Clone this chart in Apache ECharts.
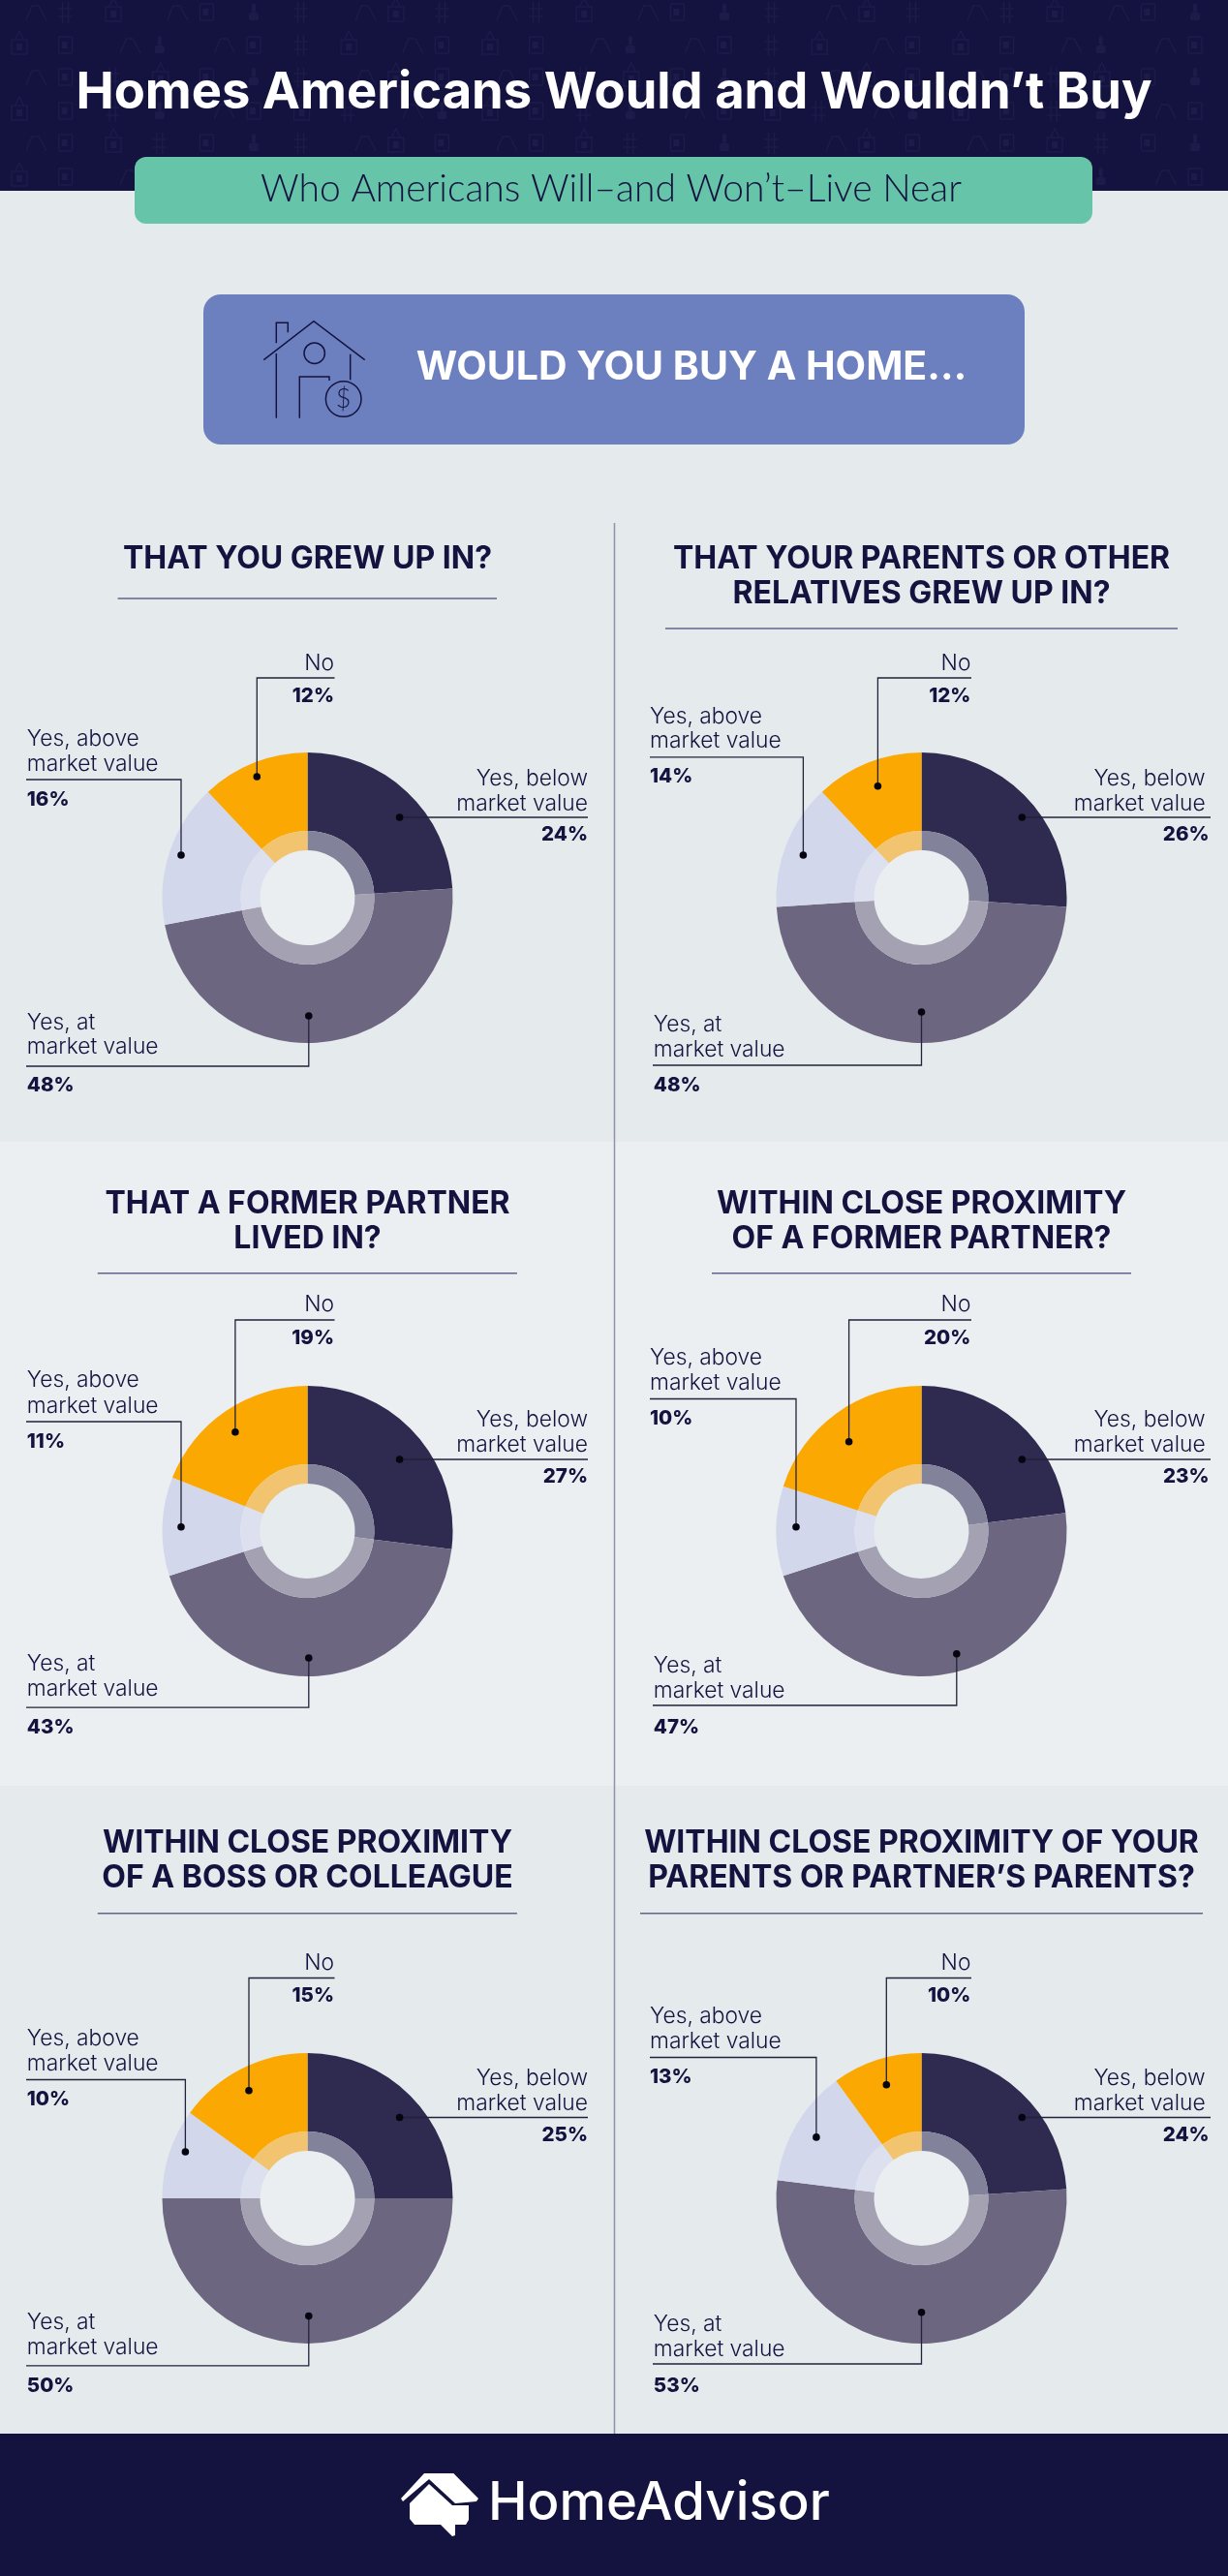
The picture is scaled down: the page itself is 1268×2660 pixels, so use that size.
<!DOCTYPE html>
<html>
<head>
<meta charset="utf-8">
<title>Homes Americans Would and Wouldn't Buy</title>
<script src="https://cdn.jsdelivr.net/npm/echarts@6/dist/echarts.min.js"></script>
<style>
    html, body { margin: 0; padding: 0; background: #e5eaed; }
    #main { width: 1268px; height: 2660px; }
</style>
</head>
<body>
<div id="main"></div>
<script>
// values, one entry per question
const questions = [
    ['THAT YOU GREW UP IN?'],
    ['THAT YOUR PARENTS OR OTHER', 'RELATIVES GREW UP IN?'],
    ['THAT A FORMER PARTNER', 'LIVED IN?'],
    ['WITHIN CLOSE PROXIMITY', 'OF A FORMER PARTNER?'],
    ['WITHIN CLOSE PROXIMITY', 'OF A BOSS OR COLLEAGUE'],
    ['WITHIN CLOSE PROXIMITY OF YOUR', 'PARENTS OR PARTNER\u2019S PARENTS?']
];
const answerLabels = [['Yes, below', 'market value'], ['Yes, at', 'market value'], ['Yes, above', 'market value'], ['No']];
const belowMarket = [24, 26, 27, 23, 25, 24];
const atMarket = [48, 48, 43, 47, 50, 53];
const aboveMarket = [16, 14, 11, 10, 10, 13];
const noBuy = [12, 12, 19, 20, 15, 10];

const NAVY = '#14123f';
const sliceColors = ['#2e2a50', '#6d6680', '#d2d7ec', '#fba802'];
const ringColors = ['#82839a', '#a3a1b2', '#dde1ef', '#f2c46f'];
const HEAD_FONT = 'Inter, "Noto Sans", sans-serif';
const BODY_FONT = 'Lato, "Noto Sans", sans-serif';

// where each panel sits on the page. callouts are in answer order: below, at, above, no
const panels = [
    {cx: 317.5, cy: 927, titleY: [577.5], ruleY: 618, ruleX: [121.6, 513], hole: '#eaeef0', callouts: [
        {dot: [412.6, 844], ruleY: 844, end: 607, textX: 607, pctX: 607, align: 'right', textY: [803, 829], pctY: 860},
        {dot: [318.8, 1049], ruleY: 1101, end: 27, textX: 27.8, pctX: 27.8, align: 'left', textY: [1055, 1080.6], pctY: 1119},
        {dot: [187, 883], ruleY: 805, end: 27, textX: 27.8, pctX: 27.8, align: 'left', textY: [762.4, 788], pctY: 824},
        {dot: [265.3, 802], ruleY: 700, end: 345.5, textX: 345, pctX: 345, align: 'right', textY: [684], pctY: 717}
    ]},
    {cx: 951.5, cy: 927, titleY: [577.5, 613], ruleY: 649, ruleX: [687, 1216], hole: '#eaeef0', callouts: [
        {dot: [1055.3, 844], ruleY: 844, end: 1250, textX: 1244.6, pctX: 1248.6, align: 'right', textY: [803, 829], pctY: 860},
        {dot: [951.5, 1045], ruleY: 1100, end: 674, textX: 674.8, pctX: 674.8, align: 'left', textY: [1057, 1082.7], pctY: 1119},
        {dot: [829.4, 883], ruleY: 781.8, end: 671, textX: 671, pctX: 671, align: 'left', textY: [739, 764.5], pctY: 800.7},
        {dot: [906.4, 811.7], ruleY: 700, end: 1003, textX: 1002.4, pctX: 1002.4, align: 'right', textY: [684], pctY: 717}
    ]},
    {cx: 317.5, cy: 1581, titleY: [1243, 1279], ruleY: 1314.8, ruleX: [100.8, 533.9], hole: '#e6ebee', callouts: [
        {dot: [412.6, 1507], ruleY: 1507, end: 607, textX: 607, pctX: 607, align: 'right', textY: [1465.3, 1491.3], pctY: 1523.4},
        {dot: [318.8, 1712], ruleY: 1763.2, end: 27, textX: 27.8, pctX: 27.8, align: 'left', textY: [1717.3, 1743.3], pctY: 1782.3},
        {dot: [187, 1576.8], ruleY: 1468, end: 27, textX: 27.8, pctX: 27.8, align: 'left', textY: [1424.6, 1451], pctY: 1487.4},
        {dot: [242.9, 1478.8], ruleY: 1363, end: 345.5, textX: 345, pctX: 345, align: 'right', textY: [1346.5], pctY: 1380}
    ]},
    {cx: 951.5, cy: 1581, titleY: [1243, 1279], ruleY: 1314.8, ruleX: [735, 1168], hole: '#e6ebee', callouts: [
        {dot: [1055.3, 1507], ruleY: 1507, end: 1250, textX: 1244.6, pctX: 1248.6, align: 'right', textY: [1465.3, 1491.3], pctY: 1523.4},
        {dot: [987.8, 1707.7], ruleY: 1761, end: 674, textX: 674.8, pctX: 674.8, align: 'left', textY: [1719.4, 1745.5], pctY: 1782.3},
        {dot: [822, 1576.8], ruleY: 1444.5, end: 671, textX: 671, pctX: 671, align: 'left', textY: [1401.6, 1427.6], pctY: 1463.6},
        {dot: [876.6, 1488.7], ruleY: 1363, end: 1003, textX: 1002.4, pctX: 1002.4, align: 'right', textY: [1346.5], pctY: 1380}
    ]},
    {cx: 317.5, cy: 2270, titleY: [1903.5, 1939.5], ruleY: 1975.7, ruleX: [100.8, 533.9], hole: '#eaeef0', callouts: [
        {dot: [412.6, 2186.5], ruleY: 2186.5, end: 607, textX: 607, pctX: 607, align: 'right', textY: [2145.3, 2171.3], pctY: 2203},
        {dot: [318.8, 2391.6], ruleY: 2442.8, end: 27, textX: 27.8, pctX: 27.8, align: 'left', textY: [2397, 2423], pctY: 2461.9},
        {dot: [191.4, 2222], ruleY: 2147.5, end: 27, textX: 27.8, pctX: 27.8, align: 'left', textY: [2104.5, 2130.5], pctY: 2166.5},
        {dot: [257, 2158.7], ruleY: 2042.5, end: 345.5, textX: 345, pctX: 345, align: 'right', textY: [2026.5], pctY: 2059.4}
    ]},
    {cx: 951.5, cy: 2270, titleY: [1903.5, 1939.5], ruleY: 1975.7, ruleX: [661, 1242], hole: '#eaeef0', callouts: [
        {dot: [1055.3, 2186.5], ruleY: 2186.5, end: 1250, textX: 1244.6, pctX: 1248.6, align: 'right', textY: [2145.3, 2171.3], pctY: 2203},
        {dot: [951.5, 2387.7], ruleY: 2441, end: 674, textX: 674.8, pctX: 674.8, align: 'left', textY: [2399.4, 2425.4], pctY: 2462},
        {dot: [842.9, 2206.9], ruleY: 2124.5, end: 671, textX: 671, pctX: 671, align: 'left', textY: [2081, 2107], pctY: 2143.5},
        {dot: [915.3, 2152.7], ruleY: 2042.5, end: 1003, textX: 1002.4, pctX: 1002.4, align: 'right', textY: [2026.5], pctY: 2059.4}
    ]}
];

function label(x, y, text, font, fill, align, z) {
    return {
        type: 'text', z: z || 20, silent: true,
        style: {x: x, y: y, text: text, font: font, fill: fill, textAlign: align || 'center', textVerticalAlign: 'middle', align: align || 'center', verticalAlign: 'middle'}
    };
}

function stroked(points, color, width, z) {
    return {type: 'polyline', z: z || 20, silent: true, shape: {points: points}, style: {stroke: color, lineWidth: width, fill: null}};
}

function box(x, y, w, h, r, fill, z) {
    return {type: 'rect', z: z, silent: true, shape: {x: x, y: y, width: w, height: h, r: r}, style: {fill: fill}};
}

// faint icon wallpaper in the header band
function wallpaper() {
    const rows = [[13, 'thbtvphtbh'], [47, 'bvtptvhbtv'], [80, 'tvhbvphtbv'], [115, 'bvhptvbhtp'], [148, 'tvbhvphtbv'], [183, 'bvtptvhbtv']];
    const color = '#1d1b49';
    let out = [];
    rows.forEach(function (row) {
        for (let i = 0; i < 26; i++) {
            let x = 12 + i * 48.6, y = row[0], kind = row[1][i % 10];
            if (kind === 't') {
                out.push(stroked([[x + 15, y + 8], [x + 21, y - 7], [x + 28, y - 7], [x + 36, y + 8]], color, 1.5, 1));
            } else if (kind === 'h') {
                out.push(stroked([[x + 4, y - 11], [x + 4, y + 11]], color, 1.5, 1), stroked([[x + 10, y - 11], [x + 10, y + 11]], color, 1.5, 1));
                out.push(stroked([[x, y - 4], [x + 14, y - 4]], color, 1.5, 1), stroked([[x, y + 4], [x + 14, y + 4]], color, 1.5, 1));
            } else if (kind === 'b') {
                out.push({type: 'rect', z: 1, silent: true, shape: {x: x, y: y - 6, width: 16, height: 15}, style: {stroke: color, lineWidth: 1.5, fill: null}});
                out.push(box(x + 5, y - 2, 6, 7, 0, color, 1));
                out.push(stroked([[x + 4, y - 7], [x + 8, y - 15], [x + 12, y - 7]], color, 1.5, 1));
            } else if (kind === 'v') {
                out.push({type: 'rect', z: 1, silent: true, shape: {x: x, y: y - 9, width: 14, height: 17, r: 1}, style: {stroke: color, lineWidth: 1.5, fill: null}});
                out.push(box(x + 3, y - 4, 6, 7, 0, color, 1));
            } else {
                out.push(box(x + 2, y, 10, 8, 2, color, 1));
                out.push(box(x + 5, y - 10, 4, 10, 2, color, 1));
            }
        }
    });
    return out;
}

function houseIcon() {
    return [
        stroked([[272.3, 371.7], [324, 331.7], [376.7, 371.7]], NAVY, 1.5),
        stroked([[285.3, 354.3], [285.3, 333.3], [297.3, 333.3], [297.3, 343.3]], NAVY, 1.5),
        stroked([[285.3, 365], [285.3, 431.7]], NAVY, 1.5),
        stroked([[361.7, 365.7], [361.7, 392.3]], NAVY, 1.5),
        stroked([[309.3, 431.7], [309.3, 389], [340, 389], [340, 393]], NAVY, 1.5),
        {type: 'circle', z: 20, silent: true, shape: {cx: 324.7, cy: 364.7, r: 10.7}, style: {stroke: NAVY, lineWidth: 1.5, fill: null}},
        {type: 'circle', z: 20, silent: true, shape: {cx: 354.7, cy: 412, r: 18.3}, style: {stroke: NAVY, lineWidth: 1.5, fill: null}},
        label(354.7, 412, '$', '300 27px ' + BODY_FONT, NAVY)
    ];
}

function footerLogo() {
    return [
        {type: 'polygon', z: 20, silent: true, shape: {points: [[414, 2580], [438, 2554], [468.3, 2554], [494, 2580], [492, 2583], [470, 2585], [443, 2560], [416, 2583]]}, style: {fill: '#ffffff'}},
        {type: 'polygon', z: 20, silent: true, shape: {points: [[423, 2585], [443, 2565], [467, 2587], [484, 2587], [484, 2602], [481, 2607], [470, 2607], [470, 2618], [467, 2619], [455, 2607], [428, 2607], [423, 2601]]}, style: {fill: '#ffffff'}},
        label(504, 2586, 'HomeAdvisor', '500 54.5px ' + HEAD_FONT, '#ffffff', 'left')
    ];
}

let graphics = [
    box(0, 0, 1268, 197, 0, NAVY, 0),
    box(0, 197, 1268, 982, 0, '#e5eaed', 0),
    box(0, 1179, 1268, 665, 0, '#ebeff2', 0),
    box(0, 1844, 1268, 669, 0, '#e5eaed', 0),
    box(0, 2513, 1268, 147, 0, NAVY, 0),
    stroked([[634.5, 540], [634.5, 2513]], '#8f95a5', 1.5, 5)
].concat(wallpaper());

graphics.push(
    label(634, 96, 'Homes Americans Would and Wouldn\u2019t Buy', '700 52.5px ' + HEAD_FONT, '#ffffff'),
    box(139, 162, 989, 69, 12, '#66c4a9', 6),
    label(631, 195, 'Who Americans Will\u2013and Won\u2019t\u2013Live Near', '300 39px ' + BODY_FONT, NAVY),
    box(210, 304, 848, 155, 18, '#6c80bf', 6),
    label(714, 380, 'WOULD YOU BUY A HOME\u2026', '700 41px ' + HEAD_FONT, '#ffffff')
);
graphics = graphics.concat(houseIcon(), footerLogo());

let series = [];
panels.forEach(function (p, i) {
    const values = [belowMarket[i], atMarket[i], aboveMarket[i], noBuy[i]];
    const center = [p.cx, p.cy];
    const base = {type: 'pie', center: center, startAngle: 90, silent: true, animation: false, label: {show: false}, labelLine: {show: false}, emphasis: {disabled: true}};
    series.push(Object.assign({}, base, {
        name: 'slices' + i, radius: [69, 150],
        data: values.map(function (v, k) { return {value: v, name: answerLabels[k].join(' '), itemStyle: {color: sliceColors[k]}}; })
    }));
    series.push(Object.assign({}, base, {
        name: 'ring' + i, radius: [49, 69],
        data: values.map(function (v, k) { return {value: v, name: answerLabels[k].join(' '), itemStyle: {color: ringColors[k]}}; })
    }));

    graphics.push({type: 'circle', z: 1, silent: true, shape: {cx: p.cx, cy: p.cy, r: 49}, style: {fill: p.hole}});
    questions[i].forEach(function (line, n) {
        graphics.push(label(p.cx, p.titleY[n], line, '700 32px ' + HEAD_FONT, NAVY));
    });
    graphics.push(stroked([[p.ruleX[0], p.ruleY], [p.ruleX[1], p.ruleY]], '#62648a', 1.5));

    p.callouts.forEach(function (c, k) {
        graphics.push(stroked([c.dot, [c.dot[0], c.ruleY], [c.end, c.ruleY]], '#22223a', 1.3));
        graphics.push({type: 'circle', z: 21, silent: true, shape: {cx: c.dot[0], cy: c.dot[1], r: 3.8}, style: {fill: '#050510'}});
        answerLabels[k].forEach(function (line, n) {
            graphics.push(label(c.textX, c.textY[n] + 1, line, '300 22.8px ' + HEAD_FONT, NAVY, c.align));
        });
        graphics.push(label(c.pctX, c.pctY + 1.5, values[k] + '%', '800 20.5px ' + HEAD_FONT, NAVY, c.align));
    });
});

let myChart = echarts.init(document.getElementById('main'));
myChart.setOption({
    animation: false,
    backgroundColor: '#e5eaed',
    tooltip: {show: false},
    series: series,
    graphic: {elements: graphics}
});
</script>
</body>
</html>
